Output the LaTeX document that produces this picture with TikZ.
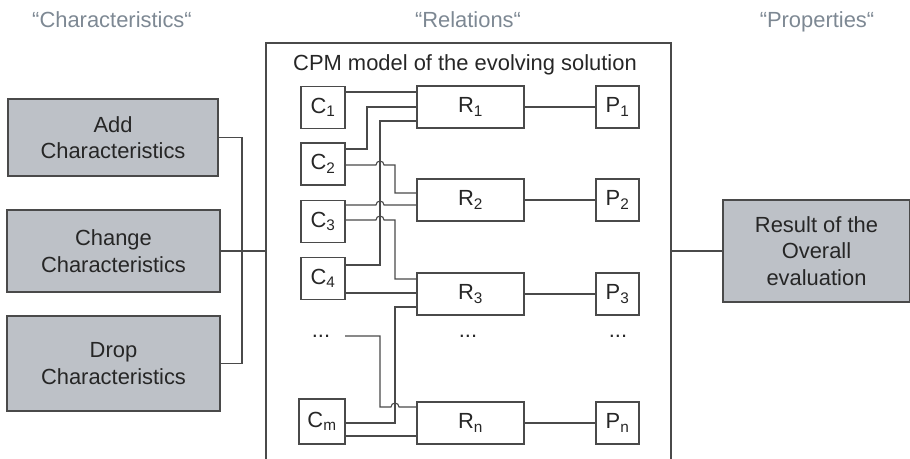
\documentclass[tikz,border=0pt]{standalone}
\usepackage{fontspec}
\setmainfont{Liberation Sans}
\definecolor{boxgray}{HTML}{BDC1C7}
\definecolor{labelgray}{HTML}{7D8893}
\definecolor{linegray}{HTML}{4A4A4A}
\definecolor{textdark}{HTML}{262626}
\tikzset{
	actbox/.style={draw=linegray,fill=boxgray,text=textdark,align=center,inner sep=0pt},
	cbox/.style={draw=linegray,text=textdark,minimum width=44bp,minimum height=42bp,inner sep=0pt},
	rbox/.style={draw=linegray,text=textdark,minimum width=107bp,minimum height=42bp,inner sep=0pt},
	pbox/.style={draw=linegray,text=textdark,minimum width=43bp,minimum height=42bp,inner sep=0pt},
	heading/.style={anchor=base,text=labelgray}
}
\begin{document}
\begin{tikzpicture}[x=1bp,y=-1bp,color=linegray,every path/.append style={line width=1.1bp},font=\fontsize{22}{26.5}\selectfont]
\useasboundingbox (0,0) rectangle (910,459);
\node[heading] (lblc) at (112,27.5) {“Characteristics“};
\node[heading] (lblr) at (468,27.5) {“Relations“};
\node[heading] (lblp) at (817,27.5) {“Properties“};
\node[actbox,minimum width=210bp,minimum height=77bp] (add) at (113,137.5) {Add\\Characteristics};
\node[actbox,minimum width=213bp,minimum height=82bp] (change) at (113.5,251) {Change\\Characteristics};
\node[actbox,minimum width=213bp,minimum height=95bp] (drop) at (113.5,363.5) {Drop\\Characteristics};
\node[draw=linegray,minimum width=405bp,minimum height=430bp,inner sep=0pt] (model) at (468.5,258) {};
\node[anchor=base,text=textdark] (title) at (465,71) {CPM model of the evolving solution};
\node[actbox,minimum width=187bp,minimum height=102bp] (result) at (816.5,251) {Result of the\\Overall\\evaluation};
\foreach \n/\y/\t in {c1/107.5/1,c2/164/2,c3/221.5/3,c4/278.5/4} {
	\node[cbox] (\n) at (323,\y) {C\textsubscript{\t}};
}
\node[cbox,minimum width=46bp,minimum height=45bp] (cm) at (322,421.5) {C\textsubscript{m}};
\foreach \n/\y/\t in {1/107/1,2/200/2,3/294/3,n/423/n} {
	\node[rbox] (r\n) at (470.5,\y) {R\textsubscript{\t}};
	\node[pbox] (p\n) at (617.5,\y) {P\textsubscript{\t}};
	\draw (r\n) -- (p\n);
}
\node[anchor=base,text=textdark] (cdots) at (321,338) {...};
\node[anchor=base,text=textdark] (rdots) at (468,338) {...};
\node[anchor=base,text=textdark] (pdots) at (618,338) {...};
\coordinate (dfree) at (345,336);
\coordinate (join) at (242,249);
% left side
\draw (add.east) -| (join) |- (drop.east);
\draw (change.east) -- (change.east -| model.west);
\draw (model.east |- result.west) -- (result.west);
% wiring inside the model
\draw (c1.east |- 0,92) -- (r1.west |- 0,92);
\draw (c2.east |- 0,149) -| (367,107) -- (r1.west);
\draw (c4.east |- 0,265) -| (380,121) -- (r1.west |- 0,121);
\draw (c2.east |- 0,165) -- (376,165) arc[start angle=180,end angle=0,radius=4bp] -| (395,193) -- (r2.west |- 0,193);
\draw (c3.east |- 0,205) -- (376,205) arc[start angle=180,end angle=0,radius=4bp] -- (r2.west |- 0,205);
\draw (c3.east |- 0,220) -- (376,220) arc[start angle=180,end angle=0,radius=4bp] -| (395,279) -- (r3.west |- 0,279);
\draw (c4.east |- 0,293) -- (r3.west |- 0,293);
\draw (r3.west |- 0,307) -| (395,423) -- (cm.east |- 0,423);
\draw (dfree) -| (380,407) -- (391,407) arc[start angle=180,end angle=0,radius=4bp] -- (rn.west |- 0,407);
\draw (cm.east |- 0,436) -- (rn.west |- 0,436);
\end{tikzpicture}
\end{document}
